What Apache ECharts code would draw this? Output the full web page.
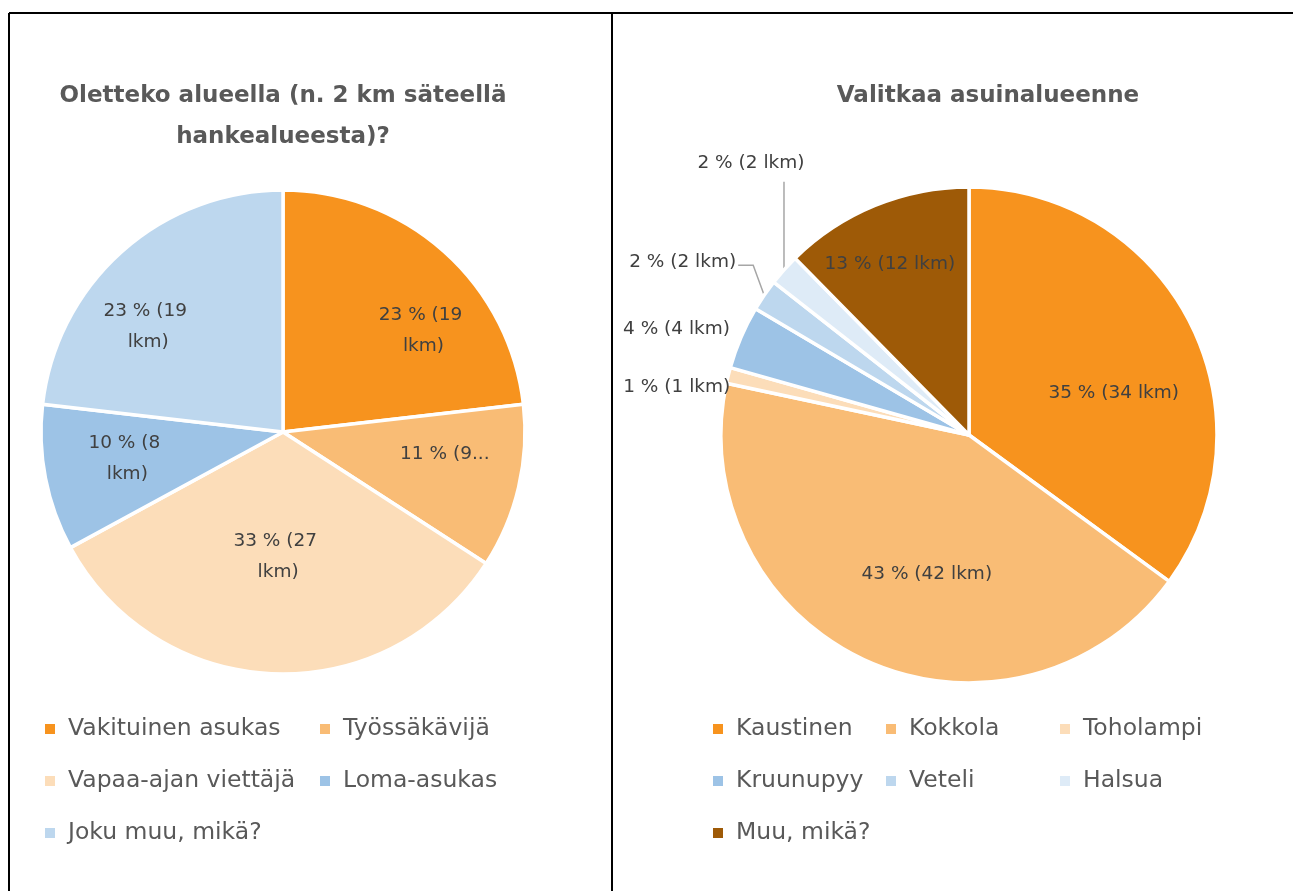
<!DOCTYPE html>
<html>
<head>
<meta charset="utf-8">
<script src="https://cdn.jsdelivr.net/npm/echarts@6/dist/echarts.min.js"></script>
<style>
  html, body { margin: 0; padding: 0; background: #fff; }
  #main { width: 1293px; height: 891px; }
</style>
</head>
<body>
<div id="main"></div>
<script>
// vasen kuvio
var leftTitle = 'Oletteko alueella (n. 2 km säteellä\nhankealueesta)?';
var leftNames = ['Vakituinen asukas', 'Työssäkävijä', 'Vapaa-ajan viettäjä', 'Loma-asukas', 'Joku muu, mikä?'];
var leftCounts = [19, 9, 27, 8, 19];
var leftPct = [23, 11, 33, 10, 23];

// oikea kuvio
var rightTitle = 'Valitkaa asuinalueenne';
var rightNames = ['Kaustinen', 'Kokkola', 'Toholampi', 'Kruunupyy', 'Veteli', 'Halsua', 'Muu, mikä?'];
var rightCounts = [34, 42, 1, 4, 2, 2, 12];
var rightPct = [35, 43, 1, 4, 2, 2, 13];

var font = 'DejaVu Sans';
var leftColors = ['#F7931E', '#F9BC75', '#FCDDB9', '#9DC3E6', '#BDD7EE'];
var rightColors = ['#F7931E', '#F9BC75', '#FCDDB9', '#9DC3E6', '#BDD7EE', '#DEEBF7', '#9E5A07'];

var leftCenter = [283, 432], leftR = 242;
var rightCenter = [969, 435], rightR = 248;

// sisälabelien etäisyys keskipisteestä (osuus säteestä) + pieni lisäsiirto
var leftLabelK = [0.70, 0.67, 0.51, 0.66, 0.72];
var leftLabelAdj = [[25, 28], [0, -16], [0, -2], [5, -4], [-16, 28]];
var rightLabelK = [0.63, 0.58, 0, 0, 0, 0, 0.76];
var rightLabelAdj = [[2, 31], [18, 5], [0, 0], [0, 0], [0, 0], [0, 0], [-6, 8]];

// ulkolabelit: siirto reunapisteestä + viivan taitepisteet
var outsideLab = {
	2: { ax: 2, ay: 12, align: 'right', line: [] },
	3: { ax: -11, ay: -8, align: 'right', line: [] },
	4: { ax: -28, ay: -33, align: 'right', line: [[-11, -30], [-26, -30]] },
	5: { ax: -33, ay: -107, align: 'center', line: [[0, -88]] }
};

var labelColor = '#404040';
var textColor = '#595959';

function insideLayout(center, kArr, adj) {
	return function (p) {
		var r = p.labelRect;
		var lx = r.x + r.width / 2, ly = r.y + r.height / 2;
		var f = kArr[p.dataIndex] / 0.5 - 1;
		var a = adj[p.dataIndex];
		return { dx: (lx - center[0]) * f + a[0], dy: (ly - center[1]) * f + a[1] };
	};
}

var rightInside = insideLayout(rightCenter, rightLabelK, rightLabelAdj);
function rightLayout(p) {
	var o = outsideLab[p.dataIndex];
	if (!o) return rightInside(p);
	var p0 = p.labelLinePoints ? p.labelLinePoints[0] : null;
	if (!p0) return {};
	var pts = [[p0[0], p0[1]]];
	o.line.forEach(function (q) { pts.push([p0[0] + q[0], p0[1] + q[1]]); });
	if (pts.length < 2) pts.push([p0[0], p0[1]]);
	return {
		x: p0[0] + o.ax,
		y: p0[1] + o.ay,
		align: o.align,
		verticalAlign: 'middle',
		labelLinePoints: pts
	};
}

var leftData = leftNames.map(function (n, i) {
	var d = { name: n, value: leftCounts[i], pct: leftPct[i], itemStyle: { color: leftColors[i] } };
	if (i === 1) {
		d.label = { width: 93, overflow: 'truncate', ellipsis: '...' };
	}
	return d;
});

var rightData = rightNames.map(function (n, i) {
	var d = { name: n, value: rightCounts[i], pct: rightPct[i], itemStyle: { color: rightColors[i] } };
	if (outsideLab[i]) {
		d.label = { position: 'outside', distanceToLabelLine: 0 };
		d.labelLine = {
			show: true, length: 10, length2: 10,
			lineStyle: { color: '#A6A6A6', width: 1.5, opacity: outsideLab[i].line.length ? 1 : 0 }
		};
	}
	return d;
});

// legendat, yksi per kohta
var legendBase = {
	orient: 'horizontal',
	padding: 0,
	icon: 'rect',
	itemWidth: 12,
	itemHeight: 12,
	selectedMode: false,
	textStyle: { fontFamily: font, fontSize: 23.5, color: textColor, lineHeight: 26, padding: [0, 0, 0, 7] }
};
function makeLegends(names, cols, rows) {
	return names.map(function (n, i) {
		var l = Object.assign({}, legendBase);
		l.data = [n];
		l.left = cols[i % cols.length];
		l.top = rows[Math.floor(i / cols.length)] - 13;
		return l;
	});
}
var legendRows = [729, 781, 833];
var legends = makeLegends(leftNames, [43, 318], legendRows)
	.concat(makeLegends(rightNames, [711, 884, 1058], legendRows));

var chart = echarts.init(document.getElementById('main'));
var option = {
	animation: false,
	title: [{
		text: leftTitle,
		left: leftCenter[0],
		top: 76,
		textAlign: 'center',
		padding: 0,
		textStyle: { fontFamily: font, fontSize: 23, fontWeight: 'bold', color: textColor, lineHeight: 41, align: 'center' }
	}, {
		text: rightTitle,
		left: 988,
		top: 76,
		textAlign: 'center',
		padding: 0,
		textStyle: { fontFamily: font, fontSize: 23, fontWeight: 'bold', color: textColor, lineHeight: 41 }
	}],
	legend: legends,
	graphic: [
		{ type: 'line', shape: { x1: 9, y1: 13, x2: 1293, y2: 13 }, style: { stroke: '#000', lineWidth: 2 } },
		{ type: 'line', shape: { x1: 9, y1: 13, x2: 9, y2: 891 }, style: { stroke: '#000', lineWidth: 2 } },
		{ type: 'line', shape: { x1: 612, y1: 13, x2: 612, y2: 891 }, style: { stroke: '#000', lineWidth: 2 } }
	],
	series: [{
		name: 'alue',
		type: 'pie',
		center: leftCenter,
		radius: leftR,
		startAngle: 90,
		clockwise: true,
		avoidLabelOverlap: false,
		emphasis: { scale: false },
		itemStyle: { borderColor: '#fff', borderWidth: 3.5 },
		label: {
			show: true,
			position: 'inside',
			fontFamily: font,
			fontSize: 18.5,
			color: labelColor,
			lineHeight: 31,
			width: 92,
			overflow: 'break',
			formatter: function (p) { return p.data.pct + ' % (' + p.value + ' lkm)'; }
		},
		labelLayout: insideLayout(leftCenter, leftLabelK, leftLabelAdj),
		data: leftData
	}, {
		name: 'asuinalue',
		type: 'pie',
		center: rightCenter,
		radius: rightR,
		startAngle: 90,
		clockwise: true,
		avoidLabelOverlap: false,
		emphasis: { scale: false },
		itemStyle: { borderColor: '#fff', borderWidth: 3.5 },
		label: {
			show: true,
			position: 'inside',
			fontFamily: font,
			fontSize: 18.5,
			color: labelColor,
			formatter: function (p) { return p.data.pct + ' % (' + p.value + ' lkm)'; }
		},
		labelLayout: rightLayout,
		data: rightData
	}]
};
chart.setOption(option);
</script>
</body>
</html>
